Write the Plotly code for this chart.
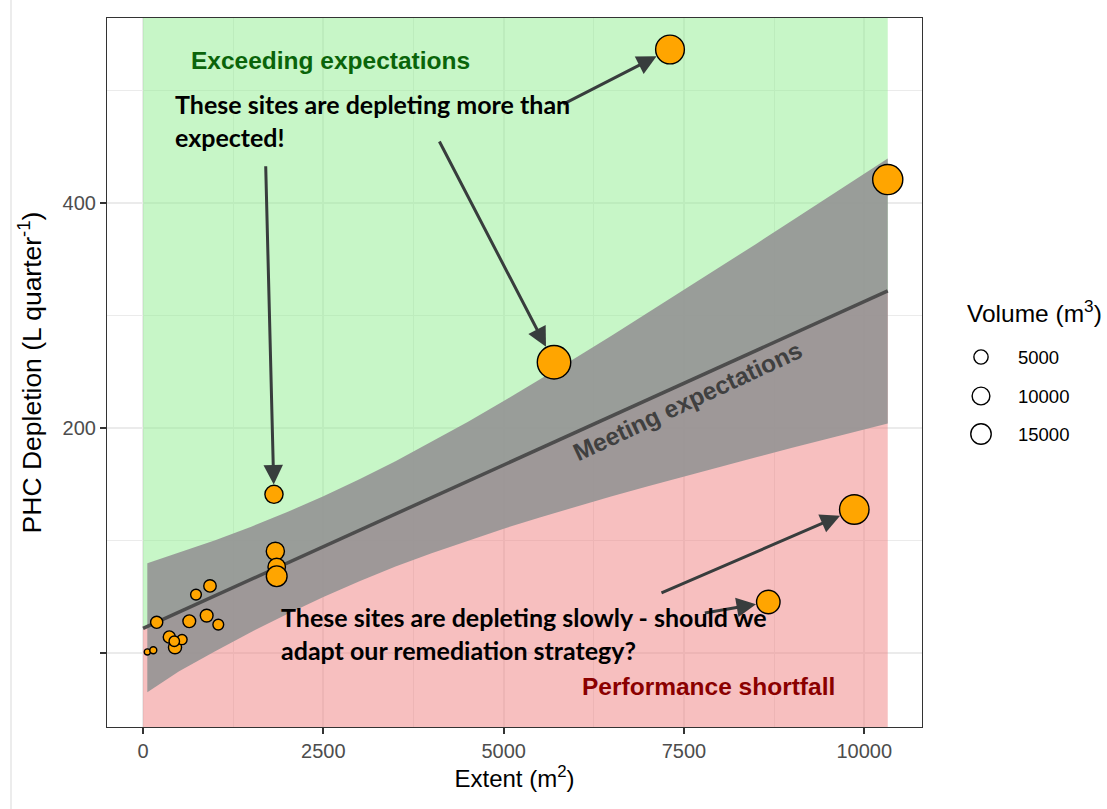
import numpy as np
import plotly.graph_objects as go

# ---- site observations ----
extent = [59, 142, 189, 364, 443, 540, 433, 641, 734, 882, 928, 1043,
          1815, 1834, 1853, 1853, 5698, 7306, 8669, 9861, 10325]
depletion = [0.9, 2.4, 27.3, 14.2, 5.1, 11.9, 10.4, 28.2, 51.9, 33.2, 59.6, 25.2,
             141.0, 90.4, 76.4, 68.2, 258.4, 536.4, 45.3, 127.5, 420.8]
volume = [10, 100, 2840, 2840, 3800, 1340, 1530, 3400, 1740, 3400, 3120, 1740,
          10680, 10680, 9500, 15600, 53300, 36700, 21800, 39000, 41300]

# ---- fitted trend and its confidence band ----
fit_x = [0, 10325]
fit_y = [21.9, 321.8]
band_x = [59, 500, 1000, 1500, 2000, 2500, 3000, 3500, 4000, 4500, 5000, 5500,
          6000, 6500, 7000, 7500, 8000, 8500, 9000, 9500, 10000, 10325]
band_hi = [79.8, 89.1, 100.3, 112.3, 125.3, 139.2, 154.4, 170.4, 187.5, 205.3, 223.9,
           242.9, 262.4, 282.1, 302.3, 322.6, 343.0, 363.6, 384.4, 405.2, 426.0, 439.6]
band_lo = [-35.0, -16.3, 1.6, 18.7, 34.7, 49.8, 63.8, 76.8, 88.7, 99.9, 110.5,
           120.5, 130.0, 139.3, 148.3, 157.0, 165.6, 174.0, 182.4, 190.6, 198.8, 204.0]

# ---- axis ticks and size legend ----
x_ticks = [0, 2500, 5000, 7500, 10000]
x_tick_text = ["0", "2500", "5000", "7500", "10000"]
y_ticks = [0, 200, 400]
y_tick_text = ["", "200", "400"]
volume_breaks = [5000, 10000, 15000]

X_RANGE = [-500, 10800]
Y_RANGE = [-65.8, 564.4]

W, H = 1107, 809
M_L, M_R, M_T, M_B = 107, 185, 18, 82
PW, PH = W - M_L - M_R, H - M_T - M_B

STROKE = 1.4


def marker_px(v):
    """Marker diameter (px) for a volume; radius grows with sqrt(volume)."""
    return 6.6 + 0.12 * np.sqrt(np.asarray(v, dtype=float)) - 0.6 * STROKE


def px_to_paper_x(px):
    return (px - M_L) / PW


def px_to_paper_y(py):
    return (M_T + PH - py) / PH


fig = go.Figure()

# region above the trend: exceeding expectations
fig.add_trace(go.Scatter(
    x=[fit_x[0], fit_x[1], fit_x[1], fit_x[0]],
    y=[fit_y[0], fit_y[1], Y_RANGE[1], Y_RANGE[1]],
    fill="toself", fillcolor="rgba(144,238,144,0.5)",
    line=dict(width=0), mode="lines", hoverinfo="skip", showlegend=False))

# region below the trend: performance shortfall
fig.add_trace(go.Scatter(
    x=[fit_x[0], fit_x[1], fit_x[1], fit_x[0]],
    y=[fit_y[0], fit_y[1], Y_RANGE[0], Y_RANGE[0]],
    fill="toself", fillcolor="rgba(240,128,128,0.5)",
    line=dict(width=0), mode="lines", hoverinfo="skip", showlegend=False))

# confidence band
fig.add_trace(go.Scatter(
    x=band_x + band_x[::-1],
    y=band_hi + band_lo[::-1],
    fill="toself", fillcolor="rgba(148,148,148,0.9)",
    line=dict(width=0), mode="lines", hoverinfo="skip", showlegend=False))

# trend line
fig.add_trace(go.Scatter(
    x=fit_x, y=fit_y, mode="lines",
    line=dict(color="#4d4d4d", width=3.5), hoverinfo="skip", showlegend=False))

# sites
fig.add_trace(go.Scatter(
    x=extent, y=depletion, mode="markers",
    marker=dict(size=marker_px(volume), color="#FFA500", opacity=1,
                line=dict(color="black", width=STROKE)),
    showlegend=False))

annotations = []

# arrows: (site index, tail x, tail y)
arrows = [(12, 1700, 434), (16, 4098, 456), (17, 5806, 487.2),
          (19, 7167, 52.8), (18, 7768, 35.3)]
sizes = marker_px(volume)
for idx, tx, ty in arrows:
    annotations.append(dict(
        x=extent[idx], y=depletion[idx], xref="x", yref="y",
        ax=tx, ay=ty, axref="x", ayref="y", text="",
        showarrow=True, arrowhead=2, arrowsize=1.3, arrowwidth=3,
        arrowcolor="#383d3d", standoff=(sizes[idx] + STROKE) / 2))

callout_font = dict(family="Lato", size=25, color="black")
annotations.append(dict(
    x=415, y=503.3, xref="x", yref="y", xanchor="left", yanchor="top", align="left",
    text="<b>These sites are depleting more than<br>expected!</b>",
    showarrow=False, font=callout_font))
annotations.append(dict(
    x=1885, y=47.5, xref="x", yref="y", xanchor="left", yanchor="top", align="left",
    text="<b>These sites are depleting slowly - should we<br>adapt our remediation strategy?</b>",
    showarrow=False, font=callout_font))

label_font = "Liberation Sans"
annotations.append(dict(
    x=2593, y=526.8, xref="x", yref="y", text="<b>Exceeding expectations</b>",
    showarrow=False, font=dict(family=label_font, size=24.5, color="#0a640a")))
annotations.append(dict(
    x=7840, y=-29.9, xref="x", yref="y", text="<b>Performance shortfall</b>",
    showarrow=False, font=dict(family=label_font, size=24.5, color="#8b0000")))
annotations.append(dict(
    x=7542, y=223.7, xref="x", yref="y", text="<b>Meeting expectations</b>",
    textangle=-25, showarrow=False, font=dict(family=label_font, size=24.5, color="#404040")))

# size legend
annotations.append(dict(
    x=px_to_paper_x(965), y=px_to_paper_y(311), xref="paper", yref="paper",
    xanchor="left", yanchor="middle", text="Volume (m<sup>3</sup>)", showarrow=False,
    font=dict(family=label_font, size=24.5, color="black")))

shapes = []
legend_y = [357, 396, 434]
for brk, ly in zip(volume_breaks, legend_y):
    r = float(marker_px(brk)) / 2
    shapes.append(dict(
        type="circle", xref="paper", yref="paper",
        xsizemode="pixel", ysizemode="pixel",
        xanchor=px_to_paper_x(981), yanchor=px_to_paper_y(ly),
        x0=-r, x1=r, y0=-r, y1=r,
        line=dict(color="black", width=STROKE), fillcolor="white"))
    annotations.append(dict(
        x=px_to_paper_x(1016), y=px_to_paper_y(ly), xref="paper", yref="paper",
        xanchor="left", yanchor="middle", text=f"{brk}", showarrow=False,
        font=dict(family=label_font, size=18.5, color="black")))

# thin rule at the left edge of the canvas
shapes.append(dict(type="line", xref="paper", yref="paper",
                   x0=px_to_paper_x(11), x1=px_to_paper_x(11),
                   y0=px_to_paper_y(0), y1=px_to_paper_y(H),
                   line=dict(color="#d9d9d9", width=1)))

axis_common = dict(
    showline=True, mirror=True, linecolor="#333333", linewidth=1.2,
    ticks="outside", ticklen=6, tickwidth=1.5, tickcolor="#333333",
    showgrid=True, gridcolor="#ebebeb", gridwidth=1.6,
    zeroline=False,
    tickfont=dict(family=label_font, size=20, color="#4d4d4d"),
)

fig.update_layout(
    width=W, height=H,
    margin=dict(l=M_L, r=M_R, t=M_T, b=M_B, autoexpand=False),
    paper_bgcolor="white", plot_bgcolor="white",
    showlegend=False,
    xaxis=dict(range=X_RANGE, tickvals=x_ticks, ticktext=x_tick_text, **axis_common,
               minor=dict(tick0=0, dtick=1250, showgrid=True, gridcolor="#ebebeb",
                          gridwidth=1, ticks=""),
               title=dict(text="Extent (m<sup>2</sup>)", standoff=7,
                          font=dict(family=label_font, size=24, color="black"))),
    yaxis=dict(range=Y_RANGE, tickvals=y_ticks, ticktext=y_tick_text, **axis_common,
               minor=dict(tick0=0, dtick=100, showgrid=True, gridcolor="#ebebeb",
                          gridwidth=1, ticks=""),
               title=dict(text="PHC Depletion (L quarter<sup>-1</sup>)", standoff=13,
                          font=dict(family=label_font, size=26.5, color="black"))),
    annotations=annotations,
    shapes=shapes,
)

fig.write_html("out.html")
